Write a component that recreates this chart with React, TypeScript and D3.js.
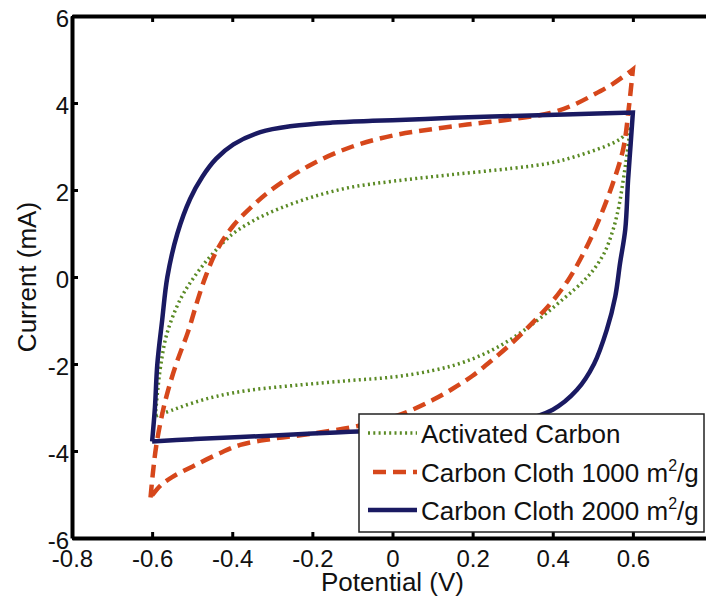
import React, { useEffect, useRef } from "react";
import * as d3 from "d3";

// ---- Data (Potential V, Current mA) ----
const xTicks = [-0.8, -0.6, -0.4, -0.2, 0, 0.2, 0.4, 0.6, 0.8];
const xTickLabels = ["-0.8", "-0.6", "-0.4", "-0.2", "0", "0.2", "0.4", "0.6", ""];
const yTicks = [-6, -4, -2, 0, 2, 4, 6];
const yTickLabels = ["-6", "-4", "-2", "0", "2", "4", "6"];

const acAnodic: [number, number][] = [
  [-0.592, -3.2], [-0.586, -2.6], [-0.578, -2.0], [-0.563, -1.3], [-0.53, -0.52],
  [-0.495, 0.0], [-0.455, 0.47], [-0.4, 0.98], [-0.34, 1.33], [-0.28, 1.58],
  [-0.2, 1.84], [-0.106, 2.06], [0.0, 2.2], [0.144, 2.35], [0.3, 2.5], [0.394, 2.62],
  [0.46, 2.78], [0.53, 3.0], [0.568, 3.17], [0.593, 3.39],
];
const acCathodic: [number, number][] = [
  [0.593, 3.39], [0.585, 2.8], [0.576, 2.23], [0.565, 1.62], [0.551, 1.1],
  [0.53, 0.58], [0.503, 0.18], [0.476, -0.1], [0.427, -0.5], [0.344, -1.12],
  [0.261, -1.62], [0.177, -1.96], [0.1, -2.15], [0.0, -2.3], [-0.106, -2.38],
  [-0.23, -2.48], [-0.355, -2.6], [-0.438, -2.74], [-0.497, -2.89], [-0.547, -3.05],
  [-0.592, -3.2],
];

const cc1Anodic: [number, number][] = [
  [-0.604, -5.07], [-0.598, -4.5], [-0.59, -3.9], [-0.576, -3.2], [-0.56, -2.6],
  [-0.538, -1.95], [-0.51, -1.25], [-0.487, -0.55], [-0.465, 0.05], [-0.438, 0.62],
  [-0.4, 1.15], [-0.35, 1.63], [-0.3, 2.02], [-0.2, 2.6], [-0.1, 3.0], [0.0, 3.25],
  [0.1, 3.4], [0.2, 3.52], [0.3, 3.63], [0.394, 3.77], [0.45, 3.95], [0.5, 4.18],
  [0.55, 4.44], [0.6, 4.77],
];
const cc1Cathodic: [number, number][] = [
  [0.6, 4.77], [0.59, 3.9], [0.576, 2.95], [0.548, 2.1], [0.51, 1.2],
  [0.477, 0.55], [0.44, -0.05], [0.4, -0.55], [0.35, -1.05], [0.3, -1.5],
  [0.25, -1.9], [0.2, -2.27], [0.15, -2.57], [0.1, -2.83], [0.05, -3.05],
  [0.0, -3.22], [-0.084, -3.42], [-0.2, -3.6], [-0.3, -3.72], [-0.38, -3.86],
  [-0.438, -4.08], [-0.5, -4.36], [-0.55, -4.6], [-0.58, -4.8], [-0.604, -5.07],
];

const cc2Anodic: [number, number][] = [
  [-0.6, -3.78], [-0.593, -3.0], [-0.587, -2.0], [-0.575, -1.0], [-0.562, 0.0],
  [-0.537, 1.0], [-0.505, 1.8], [-0.475, 2.3], [-0.44, 2.72], [-0.397, 3.05],
  [-0.33, 3.33], [-0.25, 3.47], [-0.15, 3.55], [-0.05, 3.59], [0.05, 3.62],
  [0.15, 3.66], [0.3, 3.7], [0.45, 3.74], [0.6, 3.78],
];
const cc2Cathodic: [number, number][] = [
  [0.6, 3.78], [0.594, 3.0], [0.588, 2.23], [0.581, 1.09], [0.568, 0.32],
  [0.556, -0.45], [0.535, -1.21], [0.503, -2.0], [0.46, -2.6], [0.4, -3.05],
  [0.3, -3.35], [0.2, -3.45], [0.1, -3.5], [0.0, -3.53], [-0.106, -3.56],
  [-0.2, -3.6], [-0.38, -3.68], [-0.5, -3.73], [-0.6, -3.78],
];

const seriesNames = ["Activated Carbon", "Carbon Cloth 1000 m", "Carbon Cloth 2000 m"];
const seriesColors = ["#5a8a24", "#d6471b", "#1a1a62"];

export default function App() {
  const ref = useRef<SVGSVGElement>(null);

  useEffect(() => {
    const svg = d3.select(ref.current);
    svg.selectAll("*").remove();
    const W = 706, H = 602;
    const x = d3.scaleLinear().domain([-0.8, 0.8]).range([72, 713]);
    const y = d3.scaleLinear().domain([-6, 6]).range([538, 16]);

    svg.append("rect").attr("width", W).attr("height", H).attr("fill", "#fff");

    const line = d3.line<[number, number]>()
      .x((d) => x(d[0])).y((d) => y(d[1]))
      .curve(d3.curveCatmullRom.alpha(0.5));
    const loop = (a: [number, number][], c: [number, number][]) =>
      (line(a) || "") + (line(c) || "").replace(/^M/, "L");

    const styles = [
      { w: 3.5, dash: "2,3.3" },
      { w: 4.5, dash: "13,7" },
      { w: 4.5, dash: null as string | null },
    ];
    const loops = [
      loop(acAnodic, acCathodic),
      loop(cc1Anodic, cc1Cathodic),
      loop(cc2Anodic, cc2Cathodic),
    ];
    loops.forEach((p, i) => {
      svg.append("path").attr("d", p).attr("fill", "none")
        .attr("stroke", seriesColors[i]).attr("stroke-width", styles[i].w)
        .attr("stroke-dasharray", styles[i].dash)
        .attr("stroke-linejoin", "miter");
    });

    const font = "Liberation Sans, Arial, Helvetica, sans-serif";

    // Axes
    const bottom = svg.append("g").attr("transform", `translate(0,${y(-6)})`)
      .call(d3.axisBottom(x).tickValues(xTicks).tickSizeInner(-6).tickSizeOuter(0).tickPadding(12)
        .tickFormat((_d, i) => xTickLabels[i]));
    const top = svg.append("g").attr("transform", `translate(0,${y(6)})`)
      .call(d3.axisTop(x).tickValues(xTicks).tickSizeInner(-6).tickSizeOuter(0).tickFormat(() => ""));
    const left = svg.append("g").attr("transform", `translate(${x(-0.8)},0)`)
      .call(d3.axisLeft(y).tickValues(yTicks).tickSizeInner(-6).tickSizeOuter(0).tickPadding(3)
        .tickFormat((_d, i) => yTickLabels[i]));
    [bottom, top, left].forEach((g) => {
      g.select(".domain").attr("stroke", "#000").attr("stroke-width", 4);
      g.selectAll(".tick line").attr("stroke", "#000").attr("stroke-width", 3);
      g.selectAll("text").attr("font-family", font).attr("font-size", 24).attr("fill", "#111");
    });
    left.selectAll("text").attr("dy", "0.42em");

    // Axis titles
    svg.append("text").attr("x", x(0)).attr("y", 591).attr("text-anchor", "middle")
      .attr("font-family", font).attr("font-size", 26).attr("fill", "#111").text("Potential (V)");
    svg.append("text").attr("transform", `translate(36,${y(0)}) rotate(-90)`)
      .attr("text-anchor", "middle").attr("font-family", font).attr("font-size", 26)
      .attr("fill", "#111").text("Current (mA)");

    // Legend
    const lg = svg.append("g");
    lg.append("rect").attr("x", 359).attr("y", 414).attr("width", 345).attr("height", 118)
      .attr("fill", "#fff").attr("stroke", "#222").attr("stroke-width", 1.5);
    const baselines = [443, 482, 520];
    seriesNames.forEach((name, i) => {
      const by = baselines[i];
      lg.append("line").attr("x1", i === 1 ? 373 : 368).attr("x2", 417)
        .attr("y1", by - 10).attr("y2", by - 10)
        .attr("stroke", seriesColors[i]).attr("stroke-width", styles[i].w)
        .attr("stroke-dasharray", styles[i].dash);
      const t = lg.append("text").attr("x", 421).attr("y", by)
        .attr("font-family", font).attr("font-size", 26).attr("fill", "#111");
      t.append("tspan").text(name);
      if (i > 0) {
        t.append("tspan").attr("font-size", 16).attr("dy", -11).text("2");
        t.append("tspan").attr("dy", 11).text("/g");
      }
    });
  }, []);

  return (
    <svg ref={ref} width={706} height={602}
      style={{ position: "absolute", left: 0, top: 0, display: "block" }} />
  );
}
